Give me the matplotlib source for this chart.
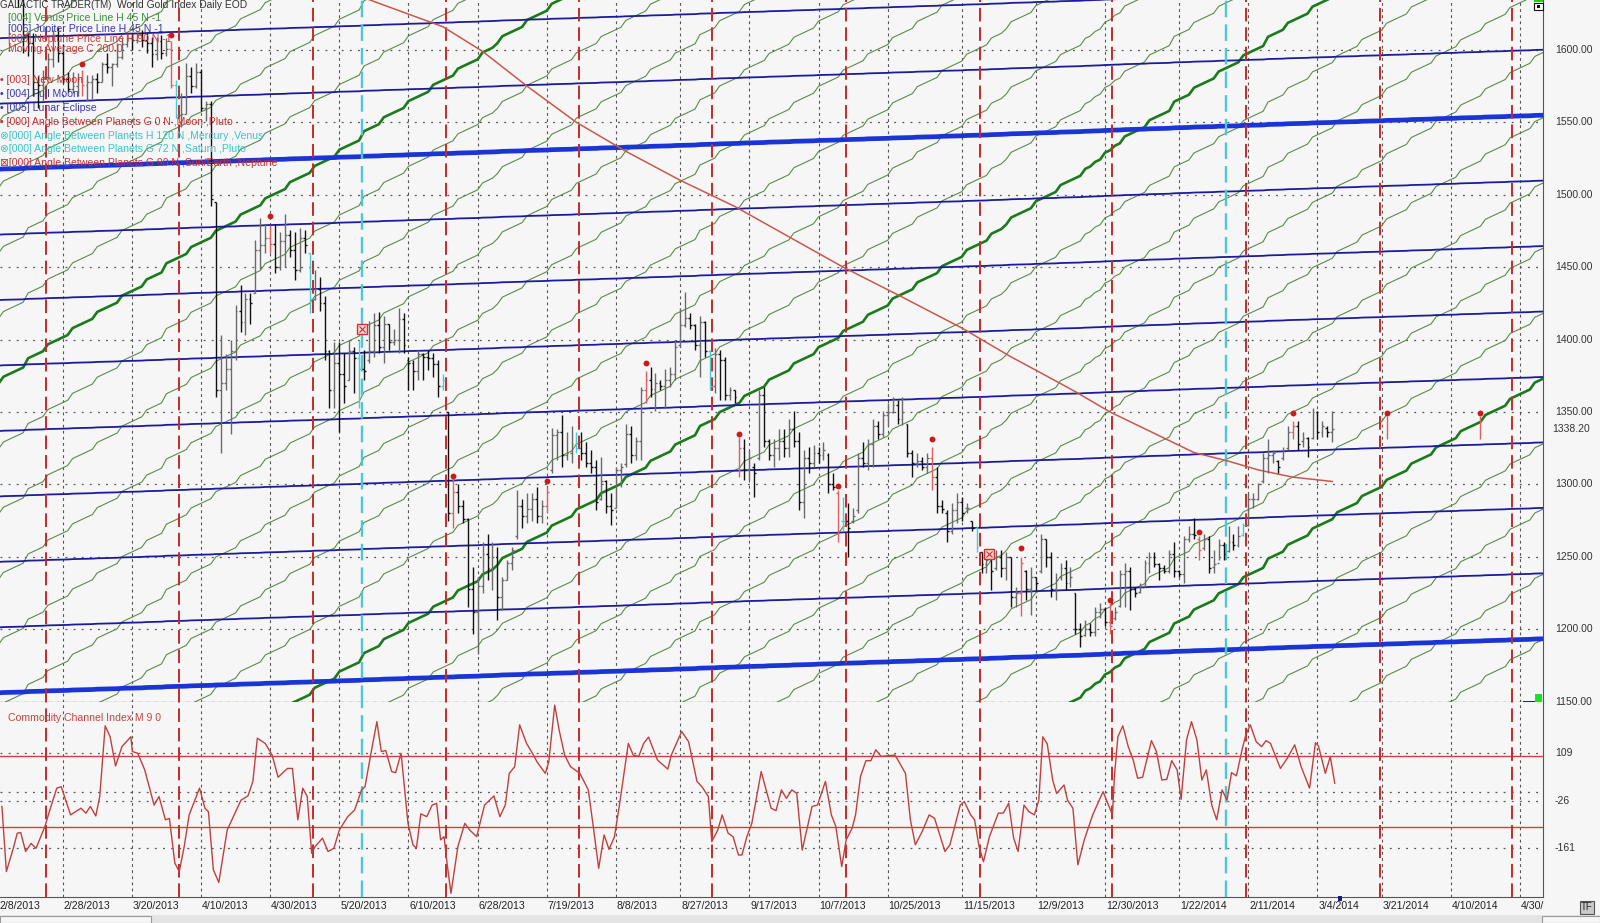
import numpy as np
import pandas as pd
import matplotlib
matplotlib.use("Agg")
import matplotlib.pyplot as plt
from matplotlib.collections import LineCollection
from matplotlib.patches import Rectangle
import matplotlib.transforms as mtransforms

plt.rcParams['font.family'] = ['Liberation Sans', 'DejaVu Sans']

# ---------------- calendar ----------------
HOLIDAYS = ["2013-02-18", "2013-03-29", "2013-05-27", "2013-07-04", "2013-09-02",
            "2013-11-28", "2013-12-25", "2014-01-01", "2014-01-20", "2014-02-17",
            "2014-05-26"]
FIRST_DAY = "2013-02-08"
LAST_DAY = "2014-05-14"

tick_dates = ["2013-02-08", "2013-02-28", "2013-03-20", "2013-04-10", "2013-04-30",
              "2013-05-20", "2013-06-10", "2013-06-28", "2013-07-19", "2013-08-08",
              "2013-08-27", "2013-09-17", "2013-10-07", "2013-10-25", "2013-11-15",
              "2013-12-09", "2013-12-30", "2014-01-22", "2014-02-11", "2014-03-04",
              "2014-03-21", "2014-04-10", "2014-04-30"]
tick_labels = ["2/8/2013", "2/28/2013", "3/20/2013", "4/10/2013", "4/30/2013",
               "5/20/2013", "6/10/2013", "6/28/2013", "7/19/2013", "8/8/2013",
               "8/27/2013", "9/17/2013", "10/7/2013", "10/25/2013", "11/15/2013",
               "12/9/2013", "12/30/2013", "1/22/2014", "2/11/2014", "3/4/2014",
               "3/21/2014", "4/10/2014", "4/30/"]

# ---------------- daily OHLC (World Gold Index) ----------------
high = [1672,1666,1652,1655,1646,1637,1612,1612,1582,1586,
        1598,1614,1616,1604,1585,1585,1584,1586,1583,1583,
        1584,1592,1598,1591,1605,1608,1612,1612,1612,1614,
        1612,1609,1609,1610,1608,1606,1579,1570,1591,1588,
        1591,1587,1565,1565,1495,1403,1390,1400,1424,1438,
        1432,1432,1469,1484,1480,1479,1480,1474,1487,1476,
        1474,1477,1476,1460,1448,1443,1430,1393,1398,1398,
        1391,1400,1395,1400,1393,1413,1418,1419,1416,1411,
        1407,1422,1418,1388,1386,1393,1391,1393,1391,1386,
        1376,1350,1305,1300,1289,1277,1243,1236,1260,1266,
        1260,1257,1236,1248,1257,1296,1290,1294,1294,1298,
        1289,1298,1339,1338,1348,1336,1340,1336,1336,1329,
        1324,1317,1319,1303,1294,1312,1315,1342,1340,1333,
        1367,1378,1381,1377,1372,1380,1381,1400,1422,1433,
        1418,1411,1416,1413,1393,1394,1393,1388,1367,1365,
        1333,1331,1324,1315,1365,1367,1331,1331,1338,1338,
        1345,1351,1336,1324,1326,1327,1326,1329,1322,1308,
        1296,1291,1287,1284,1322,1329,1331,1345,1344,1351,
        1356,1360,1358,1360,1342,1324,1322,1319,1322,1326,
        1312,1289,1282,1287,1294,1291,1287,1275,1271,1253,
        1255,1248,1255,1255,1253,1250,1229,1250,1241,1243,
        1236,1266,1262,1253,1239,1246,1248,1243,1225,1204,
        1206,1204,1215,1218,1215,1218,1215,1241,1246,1243,
        1229,1232,1248,1253,1253,1246,1244,1255,1260,1241,
        1264,1271,1277,1264,1266,1264,1255,1262,1260,1271,
        1266,1271,1273,1294,1294,1301,1322,1331,1324,1317,
        1326,1340,1344,1344,1336,1333,1353,1351,1344,1340,
        1351]
low = [1660,1642,1640,1640,1630,1598,1596,1568,1560,1565,
       1580,1588,1592,1577,1571,1570,1568,1568,1565,1566,
       1570,1578,1584,1575,1588,1594,1602,1600,1605,1602,
       1598,1588,1593,1594,1596,1574,1553,1547,1556,1570,
       1574,1558,1551,1492,1360,1322,1365,1335,1386,1405,
       1403,1411,1432,1449,1460,1460,1446,1448,1450,1457,
       1441,1447,1460,1418,1427,1420,1386,1353,1353,1336,
       1356,1372,1363,1353,1372,1384,1388,1391,1384,1393,
       1396,1391,1391,1365,1365,1372,1372,1379,1374,1360,
       1365,1275,1270,1280,1273,1215,1197,1183,1225,1234,
       1227,1206,1213,1234,1241,1262,1270,1273,1275,1273,
       1273,1280,1308,1317,1312,1317,1315,1322,1317,1312,
       1308,1282,1289,1280,1272,1284,1298,1312,1315,1317,
       1317,1356,1360,1351,1365,1353,1367,1372,1395,1409,
       1407,1393,1374,1388,1365,1363,1358,1358,1358,1356,
       1305,1303,1303,1291,1317,1326,1317,1312,1317,1319,
       1319,1326,1282,1277,1308,1312,1315,1317,1294,1296,
       1260,1268,1250,1273,1280,1312,1310,1312,1331,1333,
       1340,1349,1342,1341,1319,1305,1312,1310,1308,1296,
       1280,1280,1260,1266,1273,1275,1280,1268,1253,1239,
       1239,1227,1241,1236,1234,1215,1215,1209,1220,1210,
       1227,1239,1243,1222,1220,1234,1227,1229,1197,1188,
       1195,1195,1195,1208,1202,1197,1206,1215,1215,1213,
       1222,1225,1229,1239,1243,1234,1239,1239,1236,1236,
       1232,1260,1262,1248,1255,1239,1239,1248,1248,1253,
       1255,1257,1264,1271,1284,1289,1301,1308,1315,1308,
       1317,1324,1331,1324,1326,1319,1331,1331,1333,1333,
       1329]
open_ = [1670,1665,1648,1650,1645,1635,1610,1605,1578,1576,
         1581,1594,1610,1598,1580,1573,1575,1580,1576,1578,
         1580,1578,1590,1588,1590,1595,1604,1608,1607,1610,
         1607,1605,1597,1606,1598,1601,1576,1555,1556,1582,
         1575,1585,1560,1563,1495,1365,1370,1380,1392,1420,
         1412,1428,1432,1462,1465,1470,1466,1450,1468,1472,
         1462,1448,1470,1460,1428,1435,1425,1392,1365,1384,
         1376,1372,1392,1387,1380,1386,1392,1410,1395,1411,
         1398,1400,1414,1386,1384,1378,1390,1388,1387,1383,
         1368,1350,1280,1295,1285,1276,1228,1212,1230,1252,
         1242,1250,1222,1234,1246,1264,1285,1278,1283,1290,
         1278,1285,1310,1334,1336,1320,1322,1328,1325,1322,
         1315,1312,1290,1302,1285,1284,1310,1314,1335,1320,
         1330,1365,1372,1366,1370,1368,1372,1376,1396,1410,
         1415,1410,1396,1412,1392,1368,1390,1386,1362,1365,
         1330,1325,1310,1312,1318,1362,1330,1320,1325,1330,
         1325,1338,1330,1288,1318,1315,1322,1320,1320,1300,
         1294,1275,1275,1275,1282,1318,1315,1328,1340,1335,
         1348,1350,1355,1345,1342,1322,1315,1316,1312,1318,
         1305,1285,1280,1268,1282,1288,1284,1275,1270,1253,
         1245,1248,1242,1250,1242,1250,1222,1225,1240,1228,
         1236,1240,1262,1250,1228,1236,1242,1232,1225,1200,
         1196,1200,1198,1212,1214,1205,1208,1216,1238,1240,
         1228,1226,1230,1246,1250,1245,1242,1240,1252,1240,
         1238,1262,1266,1262,1256,1262,1243,1246,1258,1254,
         1260,1258,1265,1272,1290,1290,1302,1318,1320,1316,
         1318,1325,1336,1340,1330,1332,1332,1350,1336,1339,
         1336]
close = [1666,1648,1650,1645,1635,1610,1605,1578,1576,1581,
         1594,1610,1598,1580,1573,1575,1580,1576,1578,1580,
         1578,1590,1588,1590,1595,1604,1608,1607,1610,1607,
         1605,1597,1606,1598,1601,1576,1555,1556,1582,1575,
         1585,1560,1563,1497,1365,1370,1380,1392,1420,1412,
         1428,1425,1462,1465,1470,1466,1450,1468,1472,1462,
         1448,1470,1465,1428,1435,1425,1392,1365,1384,1376,
         1368,1392,1387,1380,1378,1392,1410,1395,1411,1398,
         1400,1414,1396,1384,1378,1390,1388,1387,1383,1368,
         1372,1280,1295,1285,1276,1228,1212,1230,1252,1242,
         1250,1222,1234,1246,1255,1285,1278,1283,1290,1278,
         1285,1295,1334,1336,1320,1322,1328,1325,1322,1315,
         1312,1288,1302,1285,1282,1310,1312,1335,1320,1330,
         1365,1372,1366,1370,1368,1372,1376,1395,1410,1415,
         1410,1396,1412,1392,1368,1390,1386,1362,1365,1360,
         1325,1310,1318,1308,1362,1330,1320,1325,1330,1325,
         1338,1330,1288,1318,1315,1322,1320,1324,1300,1298,
         1268,1275,1270,1278,1318,1315,1328,1340,1335,1348,
         1350,1355,1345,1350,1322,1315,1316,1312,1318,1305,
         1285,1283,1268,1282,1288,1280,1284,1270,1257,1245,
         1248,1240,1250,1242,1250,1222,1225,1246,1228,1236,
         1232,1262,1250,1228,1234,1242,1232,1236,1200,1195,
         1200,1198,1212,1214,1205,1202,1212,1238,1240,1228,
         1225,1230,1246,1250,1245,1242,1240,1252,1240,1238,
         1262,1266,1265,1255,1262,1242,1245,1258,1252,1260,
         1258,1264,1272,1290,1290,1300,1318,1320,1322,1312,
         1324,1336,1340,1328,1332,1326,1350,1336,1340,1336,
         1338.2]
last_close = 1338.20

# event bars / markers (bar index)
new_moon_idx = [17, 35, 55, 92, 111, 131, 150, 170, 189, 207, 225, 243, 262, 281, 300]
new_moon_dot = [1590, 1610, 1485, 1306, 1302, 1384, 1335, 1299, 1331, 1256, 1220, 1267, 1349, 1349, 1349]
future_bar_idx = [281, 300]
future_bar_high = [1347, 1347]
future_bar_low = [1331, 1331]
cyan_bar_idx = [36, 63, 73, 90, 117, 144, 171, 198, 252]
box_idx = [73.5, 200.5]
box_val = [1407, 1252]
moon_pluto_x = [9.6, 36.6, 63.6, 90.6, 117.5, 144.4, 171.5, 198.6, 225.5, 252.5, 279.6, 306.4]
merc_venus_x = [73.5, 248.4]

# 200-day moving average
ma_idx = [74, 90, 98, 107, 117, 127, 138, 149, 160, 171, 182, 195, 205, 211, 218, 225, 242, 249, 255, 262, 270]
ma_val = [1636, 1616, 1599, 1575, 1550, 1530, 1510, 1492, 1471, 1450, 1431, 1408, 1388, 1377,
          1364, 1350, 1322, 1316, 1310, 1305, 1302]

# planetary price lines: anchor price on first day, $ per calendar day, harmonic step
venus_anchor, venus_rate, venus_step = 1369.5, 1.60, 45.05
jupiter_anchor, jupiter_rate, jupiter_step = 1517.6, 0.0825, 45.2

# CCI (vertices)
cci_idx = [0.7,1.6,3.1,3.8,4.5,5.5,6.6,7.6,9.4,10.4,11.8,12.7,14.6,16.7,17.7,18.6,19.7,20.5,21.6,22.6,
           23.7,25.0,26.8,27.1,28.2,29.6,31.5,32.5,33.8,34.6,35.7,36.6,37.6,38.6,40.7,41.8,42.5,43.5,44.6,46.3,
           49.1,50.5,51.5,52.4,54.0,55.4,56.6,58.5,59.5,60.6,61.6,62.5,63.4,64.1,65.6,66.7,67.9,69.0,70.7,72.1,
           73.5,74.2,75.4,76.6,77.5,78.4,79.6,80.4,81.5,82.9,83.9,84.6,85.5,86.7,87.8,88.7,89.5,90.2,90.8,91.6,
           93.0,94.4,95.4,96.8,98.4,100.3,101.5,102.6,103.4,104.5,105.5,106.9,108.3,109.0,110.7,111.4,112.6,113.5,114.6,115.8,
           117.7,119.4,120.5,121.5,122.6,123.6,124.7,125.7,127.5,128.5,129.6,130.6,131.6,133.4,135.5,136.2,138.3,139.7,141.4,142.4,
           143.7,144.4,145.6,146.5,147.7,148.7,149.8,150.5,151.5,152.5,154.4,156.4,157.4,158.5,159.5,160.6,161.6,162.7,164.7,165.8,
           167.4,168.6,169.5,170.7,171.6,172.8,173.5,174.5,175.6,176.6,177.6,178.7,181.5,183.6,184.6,185.6,187.0,188.4,189.5,191.6,
           192.6,194.7,195.5,196.8,197.6,198.5,199.4,200.6,202.4,203.4,204.5,205.5,206.4,207.6,208.6,209.7,210.6,211.4,212.3,213.4,
           214.2,215.7,216.4,217.5,218.5,219.8,221.5,223.6,224.7,225.5,225.9,226.6,227.6,228.7,229.7,230.6,231.6,233.4,234.4,235.5,
           236.5,237.5,238.6,239.4,240.5,241.5,242.6,243.6,244.5,245.6,246.6,247.7,248.7,249.6,250.6,251.8,252.5,253.4,254.6,255.7,
           256.6,257.5,259.5,260.9,262.4,263.7,265.4,266.6,267.2,268.6,269.6,270.5]
cci_val = [-42,-227,-156,-118,-116,-170,-147,-161,-99,-52,10,14,-66,-47,-61,-42,-69,-14,187,156,
           73,128,156,114,109,62,-38,-14,-80,-76,-203,-227,-156,-66,10,-47,-57,-222,-258,-109,
           -24,-12,29,152,137,104,41,66,66,-80,10,-14,-175,-156,-132,-170,-161,-109,-71,-52,
           5,14,109,199,114,117,57,54,109,-90,-151,-161,-63,-71,-38,-33,-137,-128,-203,-289,
           -156,-90,-109,-128,-38,-12,-71,-38,52,71,190,137,104,85,52,85,246,175,104,71,
           52,5,-109,-218,-123,-164,-128,-38,137,104,100,137,155,90,64,104,171,142,29,14,
           -14,-142,-109,-66,-118,-128,-180,-180,-128,-90,57,-47,-54,5,-19,5,-5,-166,-42,-38,
           29,-66,-99,-213,-137,-104,-66,43,88,88,119,100,104,52,-80,-151,-113,-66,-76,-170,
           -151,-38,-28,-66,-80,-156,-199,-128,-61,-61,-33,-132,-170,-38,-57,-66,-24,156,136,33,
           -5,19,-24,-47,-208,-137,-66,0,-38,-66,43,156,187,128,90,38,41,145,114,33,
           35,88,62,-22,147,199,147,33,62,-38,-80,5,-24,54,45,123,161,190,142,128,
           145,137,66,95,133,71,10,139,130,52,100,24]
cci_bands = [100, -100]
cci_grid = [109, 0, -26, -161]
cci_labels = [109, -26, -161]
price_levels = [1150, 1200, 1250, 1300, 1350, 1400, 1450, 1500, 1550, 1600]

# ---------------- derived positions ----------------
cal = pd.bdate_range(FIRST_DAY, LAST_DAY, freq='C', holidays=HOLIDAYS)
xi = np.arange(len(cal))
days = (cal - cal[0]).days.values.astype(float)
tick_idx = [cal.get_loc(pd.Timestamp(d)) for d in tick_dates]

W, H = 1600, 923
BG = '#f6f6f6'
fig = plt.figure(figsize=(16, 9.23), dpi=100)
fig.patch.set_facecolor(BG)
ax = fig.add_axes([0, 1 - 702 / H, 1543 / W, 702 / H])
ax2 = fig.add_axes([0, 1 - 896.7 / H, 1543 / W, 194.7 / H])
for a in (ax, ax2):
    a.set_facecolor(BG)
    a.set_xlim(0.31, 312.66)
    a.set_xticks([])
    a.set_yticks([])
    a.spines['left'].set_visible(False)
    a.spines['top'].set_visible(False)
    a.spines['right'].set_color('#555555')
ax.spines['bottom'].set_color('#111111')
ax2.spines['bottom'].set_color('#555555')
ax.set_ylim(1149.7, 1634.5)
ax2.set_ylim(-298.5, 254.8)

# grid
for t in tick_idx:
    for a in (ax, ax2):
        a.axvline(t, color='#555555', lw=0.8, ls=(0, (2.5, 3)), zorder=1)
for p in price_levels:
    ax.axhline(p, color='#555555', lw=0.9, ls=(0, (1.5, 5)), zorder=1)
for v in cci_grid:
    ax2.axhline(v, color='#555555', lw=0.9, ls=(0, (1.5, 5)), zorder=1)

# Venus price lines (green)
for k in range(-40, 8):
    y = venus_anchor + venus_step * k + venus_rate * days
    if k % 8 == 0:
        ax.plot(xi, y, color='#1b7a1b', lw=1.9, zorder=2)
    else:
        ax.plot(xi, y, color='#5e8a4c', lw=0.8, zorder=2)

# Jupiter price lines (blue)
for k in range(-9, 4):
    y = jupiter_anchor + jupiter_step * k + jupiter_rate * days
    if k % 8 == 0:
        ax.plot(xi, y, color='#1a34d6', lw=3.4, zorder=3)
    else:
        ax.plot(xi, y, color='#1c1c9a', lw=1.3, zorder=3)

# moving average
ax.plot(ma_idx, ma_val, color='#c8584c', lw=1.1, zorder=4)

# vertical event lines
for a in (ax, ax2):
    for xv in moon_pluto_x:
        a.axvline(xv, color='#c62a2a', lw=1.4, ls=(0, (7, 3)), zorder=3)
    for xv in merc_venus_x:
        a.axvline(xv, color='#4cc8d0', lw=1.7, ls=(0, (7, 3)), zorder=3)

# price bars
segs, cols = [], []
for i in range(len(high)):
    if i in new_moon_idx:
        c = '#e06060'
    elif i in cyan_bar_idx:
        c = '#3fd0d8'
    elif close[i] >= open_[i]:
        c = '#6a6a6a'
    else:
        c = '#111111'
    segs += [[(i, low[i]), (i, high[i])], [(i - 0.38, open_[i]), (i, open_[i])],
             [(i, close[i]), (i + 0.38, close[i])]]
    cols += [c, c, c]
for j, i in enumerate(future_bar_idx):
    segs.append([(i, future_bar_low[j]), (i, future_bar_high[j])])
    cols.append('#e06060')
ax.add_collection(LineCollection(segs, colors=cols, linewidths=1.0, zorder=5))
ax.plot(new_moon_idx, new_moon_dot, 'o', color='#cc1a1a', ms=3.2, zorder=6)
ax.plot(box_idx, box_val, 's', ms=7, mfc='#f8d4d4', mec='#d03030', mew=1, ls='none', zorder=6)
ax.plot(box_idx, box_val, 'x', ms=4, color='#d03030', mew=0.8, ls='none', zorder=7)

# CCI panel
for v in cci_bands:
    ax2.axhline(v, color='#d04040', lw=1.0, zorder=2)
ax2.plot(cci_idx, cci_val, color='#c04040', lw=1.0, zorder=4)

# axis labels
btr = mtransforms.blended_transform_factory(ax.transAxes, ax.transData)
for p in price_levels:
    ax.text(1555 / 1543, p, f"{p:.2f}", transform=btr, ha='left', va='center',
            fontsize=7.5, color='#333333', clip_on=False)
ax.text(1552 / 1543, last_close, f"{last_close:.2f}", transform=btr, ha='left', va='center',
        fontsize=7.5, color='#333333', clip_on=False)
btr2 = mtransforms.blended_transform_factory(ax2.transAxes, ax2.transData)
for v in cci_labels:
    ax2.text(1555 / 1543, v, f"{v}", transform=btr2, ha='left', va='center',
             fontsize=7.5, color='#333333', clip_on=False)
btx = mtransforms.blended_transform_factory(ax2.transData, ax2.transAxes)
for t, lbl in zip(tick_idx, tick_labels):
    ax2.text(t + 0.2, -0.048, lbl, transform=btx, ha='left', va='center',
             fontsize=7.6, color='#222222', clip_on=False)

# legend texts
def ftext(px, py, s, color, size=7.6):
    fig.text(px / W, 1 - py / H, s, color=color, fontsize=size, ha='left', va='center', zorder=20)

ftext(0.5, 5.5, "GALACTIC TRADER(TM)", '#333333', 7.0)
ftext(117, 5.5, "World Gold Index Daily EOD", '#333333', 7.4)
ftext(8, 18.3, "[004] Venus Price Line H 45 N -1", '#3a8f3a')
ftext(8, 29, "[006] Jupiter Price Line H 45 N -1", '#3a3aa8')
ftext(8, 39, "[009] Neptune Price Line H 90 N -1", '#c83c3c')
ftext(8, 49, "Moving Average C 200.0", '#c83c3c')
ftext(0.5, 80, "• [003] New Moon", '#c83030')
ftext(0.5, 94, "• [004] Full Moon", '#3a3aa8')
ftext(0.5, 107.7, "• [005] Lunar Eclipse", '#3a3aa8')
ftext(0.5, 121.7, "• [000] Angle Between Planets G 0 N ,Moon ,Pluto", '#c83030')
ftext(0.5, 135.7, "⊗[000] Angle Between Planets H 120 N ,Mercury ,Venus", '#3cc4cc')
ftext(0.5, 149.3, "⊗[000] Angle Between Planets G 72 N ,Saturn ,Pluto", '#3cc4cc')
ftext(0.5, 163.3, "⊠[000] Angle Between Planets G 90 N ,Sun/Earth ,Neptune", '#c83030')
ftext(8, 718.3, "Commodity Channel Index M 9 0", '#d04040')

# decorations (widgets of the original software)
def frect(x0, y0, x1, y1, **kw):
    fig.patches.append(Rectangle((x0 / W, 1 - y1 / H), (x1 - x0) / W, (y1 - y0) / H,
                                 transform=fig.transFigure, figure=fig, **kw))

frect(1534, 0, 1543, 2, facecolor='#22cc22', edgecolor='none', zorder=20)
frect(1534, 2.7, 1543, 10, facecolor='#ffffff', edgecolor='#111111', lw=0.8, zorder=20)
frect(1537, 5, 1540, 7.5, facecolor='#111111', edgecolor='none', zorder=21)
frect(1534.5, 694, 1542, 702, facecolor='#22dd22', edgecolor='none', zorder=20)
frect(1523, 700.5, 1535, 701.8, facecolor='#1c1c9a', edgecolor='none', zorder=20)
frect(1338, 896, 1342, 901, facecolor='#1c1c7a', edgecolor='none', zorder=20)
frect(1580, 901, 1594, 914, facecolor='#c8c8c8', edgecolor='#555555', lw=0.8, zorder=20)
fig.text(1587 / W, 1 - 907.5 / H, "TF", fontsize=7, color='#222222', ha='center', va='center', zorder=21)
frect(0, 915, 1600, 923, facecolor='#e4e4e4', edgecolor='none', zorder=19)
frect(0, 916, 151, 923, facecolor='#f6f6f6', edgecolor='#9a9a9a', lw=0.8, zorder=20)
frect(1542, 916, 1600, 923, facecolor='#f6f6f6', edgecolor='#9a9a9a', lw=0.8, zorder=20)

fig.savefig("out.png", dpi=100, facecolor=fig.get_facecolor())
